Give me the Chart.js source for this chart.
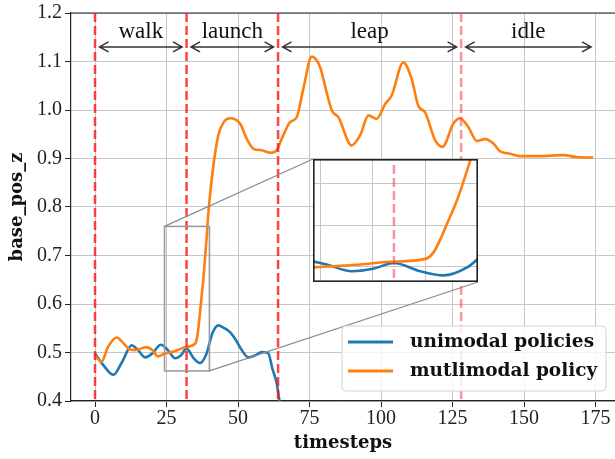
<!DOCTYPE html>
<html>
<head>
<meta charset="utf-8">
<script src="https://cdn.jsdelivr.net/npm/chart.js@4.4.0/dist/chart.umd.min.js"></script>
<style>
  body { margin: 0; background: #fff; overflow: hidden; }
  #wrap { position: relative; width: 615px; height: 459px; }
  #inset { position: absolute; left: 313px; top: 159px; }
</style>
</head>
<body>
<div id="wrap">
  <canvas id="grafico" width="615" height="459"></canvas>
  <canvas id="inset" width="165" height="123"></canvas>
</div>
<script>
// dados
var uniT = [0, 2.9, 6.4, 9.5, 12.8, 15, 17.5, 20, 23, 25.5, 28, 30, 32, 34.5, 36.7, 39, 41, 43.1, 45, 47.2, 49, 51.3, 53.6, 56, 58.3, 60.6, 62, 63.5, 64.5, 66];
var uniZ = [0.498, 0.474, 0.454, 0.481, 0.515, 0.505, 0.490, 0.498, 0.516, 0.505, 0.488, 0.494, 0.508, 0.488, 0.478, 0.498, 0.539, 0.556, 0.551, 0.542, 0.528, 0.505, 0.490, 0.494, 0.501, 0.498, 0.467, 0.437, 0.400, 0.360];

var multiT = [0, 2.3, 4.5, 7.6, 9.5, 11.7, 14, 18, 20, 22, 24, 26.8, 29, 31.5, 35, 35.8, 36.5, 37, 38, 39, 39.8, 41.4, 43.1, 45, 47.2, 50.7, 53, 55.4, 58.3, 61.2, 63.5, 65.3, 68.2, 70.5, 72.8, 75.8, 78.7, 81, 82.8, 85.1, 89.7, 92.7, 95.6, 98.5, 101.4, 103.7, 107.8, 110.7, 113, 115.4, 118.9, 121.5, 125.3, 127.6, 130.5, 133.5, 136.4, 139.3, 141.6, 145.1, 148.6, 155.6, 163.7, 168.4, 174.2];
var multiZ = [0.494, 0.481, 0.511, 0.531, 0.522, 0.508, 0.505, 0.511, 0.505, 0.492, 0.497, 0.501, 0.505, 0.511, 0.518, 0.535, 0.570, 0.600, 0.660, 0.735, 0.800, 0.886, 0.948, 0.975, 0.983, 0.972, 0.941, 0.920, 0.917, 0.912, 0.917, 0.941, 0.975, 0.985, 1.043, 1.110, 1.088, 1.036, 0.999, 0.985, 0.927, 0.948, 0.989, 0.982, 1.012, 1.030, 1.098, 1.064, 1.009, 0.995, 0.938, 0.924, 0.972, 0.983, 0.965, 0.936, 0.940, 0.931, 0.915, 0.910, 0.905, 0.905, 0.907, 0.903, 0.902];

var fases = ['walk', 'launch', 'leap', 'idle'];
var limitesFases = [0, 32, 64, 128, 175];
var alturaSetas = 1.13;

var ticksX = [0, 25, 50, 75, 100, 125, 150, 175];
var ticksY = [0.4, 0.5, 0.6, 0.7, 0.8, 0.9, 1.0, 1.1, 1.2];

var zoomX = [24.3, 40];
var zoomY = [0.462, 0.76];
var ticksZoomX = [25, 30, 35];
var ticksZoomY = [0.5, 0.6, 0.7];

var azul = '#1f77b4';
var laranja = '#ff7f0e';
var caixaInset = { left: 313, top: 159, width: 165, height: 123 };

function pontos(ts, zs) {
    return ts.map(function (t, i) { return { x: t, y: zs[i] }; });
}

function datasets() {
    return [{
        label: 'unimodal policies',
        data: pontos(uniT, uniZ),
        borderColor: azul,
        borderWidth: 2.6,
        pointRadius: 0,
        cubicInterpolationMode: 'monotone',
        order: 1
    }, {
        label: 'mutlimodal policy',
        data: pontos(multiT, multiZ),
        borderColor: laranja,
        borderWidth: 2.6,
        pointRadius: 0,
        cubicInterpolationMode: 'monotone',
        order: 0
    }];
}

function seta(ctx, x1, x2, y) {
    ctx.beginPath();
    ctx.moveTo(x1, y); ctx.lineTo(x2, y);
    ctx.moveTo(x1 + 9, y - 5); ctx.lineTo(x1, y); ctx.lineTo(x1 + 9, y + 5);
    ctx.moveTo(x2 - 9, y - 5); ctx.lineTo(x2, y); ctx.lineTo(x2 - 9, y + 5);
    ctx.stroke();
}

var fasesPlugin = {
    id: 'fases',
    afterDatasetsDraw: function (chart) {
        var ctx = chart.ctx, sx = chart.scales.x, sy = chart.scales.y, area = chart.chartArea;
        ctx.save();
        // borda de cima
        ctx.strokeStyle = '#222';
        ctx.lineWidth = 1.2;
        ctx.beginPath();
        ctx.moveTo(area.left, area.top);
        ctx.lineTo(area.right, area.top);
        ctx.stroke();

        // linhas vermelhas
        ctx.lineWidth = 2.5;
        ctx.setLineDash([9, 4]);
        limitesFases.slice(0, 4).forEach(function (b, i) {
            var px = sx.getPixelForValue(b);
            ctx.strokeStyle = i < 3 ? 'rgba(255,20,20,0.8)' : 'rgba(255,40,60,0.5)';
            ctx.beginPath();
            ctx.moveTo(px, area.top);
            ctx.lineTo(px, area.bottom);
            ctx.stroke();
        });
        ctx.setLineDash([]);

        // setas e nomes das fases
        var ya = sy.getPixelForValue(alturaSetas);
        ctx.strokeStyle = '#333';
        ctx.lineWidth = 1.5;
        ctx.fillStyle = '#111';
        ctx.font = '23px "Liberation Serif"';
        ctx.textAlign = 'center';
        ctx.textBaseline = 'alphabetic';
        fases.forEach(function (nome, i) {
            var x1 = sx.getPixelForValue(limitesFases[i]) + 4.5;
            var x2 = sx.getPixelForValue(limitesFases[i + 1]) - 4.5;
            seta(ctx, x1, x2, ya);
            ctx.fillText(nome, (x1 + x2) / 2, ya - 9);
        });

        // retangulo do zoom e ligacoes
        var rx1 = sx.getPixelForValue(zoomX[0]), rx2 = sx.getPixelForValue(zoomX[1]);
        var ry1 = sy.getPixelForValue(zoomY[1]), ry2 = sy.getPixelForValue(zoomY[0]);
        ctx.strokeStyle = '#9a9a9a';
        ctx.lineWidth = 1.6;
        ctx.strokeRect(rx1, ry1, rx2 - rx1, ry2 - ry1);
        ctx.lineWidth = 1.2;
        ctx.strokeStyle = '#8c8c8c';
        ctx.beginPath();
        ctx.moveTo(rx1, ry1);
        ctx.lineTo(caixaInset.left, caixaInset.top);
        ctx.moveTo(rx2, ry2);
        ctx.lineTo(caixaInset.left + caixaInset.width, caixaInset.top + caixaInset.height);
        ctx.stroke();
        ctx.restore();
    },
    afterDraw: function (chart) {
        var ctx = chart.ctx;
        ctx.save();
        ctx.beginPath();
        ctx.roundRect(342, 326, 264, 65, 4);
        ctx.fillStyle = 'rgba(255,255,255,0.8)';
        ctx.fill();
        ctx.strokeStyle = '#d4d4d4';
        ctx.lineWidth = 1;
        ctx.stroke();
        ctx.font = 'bold 18.5px "DejaVu Serif"';
        ctx.textBaseline = 'middle';
        ctx.textAlign = 'left';
        chart.data.datasets.forEach(function (ds, i) {
            var y = 342 + i * 29;
            ctx.strokeStyle = ds.borderColor;
            ctx.lineWidth = 2.8;
            ctx.beginPath();
            ctx.moveTo(348, y);
            ctx.lineTo(393, y);
            ctx.stroke();
            ctx.fillStyle = '#111';
            ctx.fillText(ds.label, 410, y);
        });
        ctx.restore();
    }
};

new Chart(document.getElementById('grafico'), {
    type: 'line',
    data: { datasets: datasets() },
    options: {
        responsive: false,
        animation: false,
        layout: { padding: { top: 10, right: 0, bottom: 0, left: 0 } },
        plugins: { legend: { display: false }, tooltip: { enabled: false } },
        scales: {
            x: {
                type: 'linear',
                min: -8.4,
                max: 181.8,
                afterBuildTicks: function (s) { s.ticks = ticksX.map(function (v) { return { value: v }; }); },
                afterFit: function (s) { s.height = 58; },
                grid: { color: '#c6c6c6', lineWidth: 1, tickLength: 6, tickColor: '#222' },
                border: { color: '#222', width: 1.2 },
                ticks: { color: '#222', padding: 2, maxRotation: 0, autoSkip: false,
                         font: { family: 'Liberation Serif', size: 20, lineHeight: 1 } },
                title: { display: true, text: 'timesteps', color: '#111',
                         font: { family: 'DejaVu Serif', weight: 'bold', size: 18 },
                         padding: { top: 0, bottom: 5 } }
            },
            y: {
                min: 0.4,
                max: 1.2,
                afterBuildTicks: function (s) { s.ticks = ticksY.map(function (v) { return { value: v }; }); },
                afterFit: function (s) { s.width = 71; },
                grid: { color: '#c6c6c6', lineWidth: 1, tickLength: 6, tickColor: '#222' },
                border: { color: '#222', width: 1.2 },
                ticks: { color: '#222', padding: 3,
                         font: { family: 'Liberation Serif', size: 20, lineHeight: 1 },
                         callback: function (v) { return v.toFixed(1); } },
                title: { display: true, text: 'base_pos_z', color: '#111',
                         font: { family: 'DejaVu Serif', weight: 'bold', size: 18 },
                         padding: { top: 7, bottom: 0 } }
            }
        }
    },
    plugins: [fasesPlugin]
});

var insetPlugin = {
    id: 'insetFrame',
    beforeDraw: function (chart) {
        var ctx = chart.ctx;
        ctx.save();
        ctx.fillStyle = '#fff';
        ctx.fillRect(0, 0, chart.width, chart.height);
        ctx.restore();
    },
    afterDatasetsDraw: function (chart) {
        var ctx = chart.ctx, sx = chart.scales.x, area = chart.chartArea;
        ctx.save();
        var px = sx.getPixelForValue(limitesFases[1]);
        ctx.strokeStyle = 'rgba(255,40,60,0.5)';
        ctx.lineWidth = 2.5;
        ctx.setLineDash([9, 4]);
        ctx.beginPath();
        ctx.moveTo(px, area.top + 6);
        ctx.lineTo(px, area.bottom - 4);
        ctx.stroke();
        ctx.setLineDash([]);
        ctx.strokeStyle = '#222';
        ctx.lineWidth = 1.6;
        ctx.strokeRect(0.8, 0.8, chart.width - 1.6, chart.height - 1.6);
        ctx.restore();
    }
};

new Chart(document.getElementById('inset'), {
    type: 'line',
    data: { datasets: datasets() },
    options: {
        responsive: false,
        animation: false,
        layout: { padding: 0 },
        plugins: { legend: { display: false }, tooltip: { enabled: false } },
        scales: {
            x: {
                type: 'linear',
                min: zoomX[0],
                max: zoomX[1],
                afterBuildTicks: function (s) { s.ticks = ticksZoomX.map(function (v) { return { value: v }; }); },
                afterFit: function (s) { s.height = 0; },
                grid: { color: '#c6c6c6', drawTicks: false },
                border: { display: false },
                ticks: { display: false }
            },
            y: {
                min: zoomY[0],
                max: zoomY[1],
                afterBuildTicks: function (s) { s.ticks = ticksZoomY.map(function (v) { return { value: v }; }); },
                afterFit: function (s) { s.width = 0; },
                grid: { color: '#c6c6c6', drawTicks: false },
                border: { display: false },
                ticks: { display: false }
            }
        }
    },
    plugins: [insetPlugin]
});
</script>
</body>
</html>
